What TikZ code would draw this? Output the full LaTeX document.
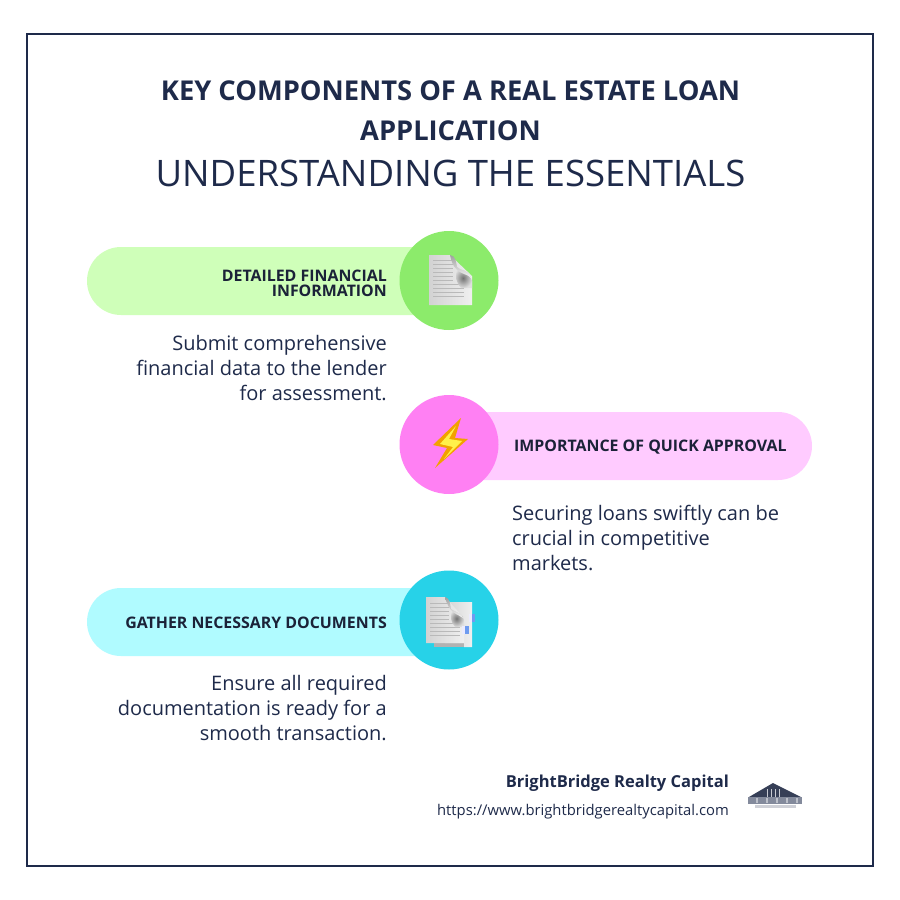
\documentclass[tikz,border=0pt]{standalone}
\usepackage{fontspec}
\setmainfont{Open Sans}
\usepackage{tikz}
\definecolor{navy}{HTML}{1E2A4A}
\definecolor{inkdark}{HTML}{1B2238}
\definecolor{pillgreen}{HTML}{CFFFB9}
\definecolor{dotgreen}{HTML}{8CEB6B}
\definecolor{pillpink}{HTML}{FFCBFF}
\definecolor{dotpink}{HTML}{FF80F3}
\definecolor{pillcyan}{HTML}{B0FBFF}
\definecolor{dotcyan}{HTML}{27D2E8}
\definecolor{boltorange}{HTML}{F2A100}
\definecolor{boltyellow}{HTML}{FFF04A}
\definecolor{tabblue}{HTML}{6E9BEF}
\begin{document}
\begin{tikzpicture}[x=1pt,y=-1pt,
  pill/.style={minimum width=363pt, minimum height=68pt, rounded corners=34pt, inner sep=0pt},
  dot/.style={circle, minimum size=99pt, inner sep=0pt},
  head/.style={font=\fontsize{15.9}{15}\selectfont\bfseries, text=inkdark, align=right, inner sep=0pt},
  body/.style={font=\fontsize{20}{25}\selectfont, text=navy, inner sep=0pt},
  sheet/.style={left color=gray!35, right color=gray!12},
  sheetline/.style={gray!55, line width=0.5pt},
  flap/.style={top color=gray!75, bottom color=gray!8},
  curl/.style={inner color=gray!90!black, outer color=gray!25}]
\useasboundingbox (0,0) rectangle (900,900);
\fill[white] (0,0) rectangle (900,900);
\node[draw=navy, line width=2pt, minimum width=846pt, minimum height=832pt, inner sep=0pt] (frame) at (450,450) {};
% title
\node[font=\fontsize{27.3}{40}\selectfont\bfseries, text=navy, align=center, inner sep=0pt] (title) at (450.5,111) {KEY COMPONENTS OF A REAL ESTATE LOAN\\APPLICATION};
\node[font=\fontsize{36.5}{40}\selectfont, text=navy, inner sep=0pt] (subtitle) at (450.5,173) {UNDERSTANDING THE ESSENTIALS};
% pills and dots
\node[pill, fill=pillgreen] (pill1) at (268.5,281) {};
\node[dot, fill=dotgreen] (dot1) at (449,280.5) {};
\node[pill, fill=pillpink] (pill2) at (630.5,446) {};
\node[dot, fill=dotpink] (dot2) at (449,444.5) {};
\node[pill, fill=pillcyan] (pill3) at (268.5,622) {};
\node[dot, fill=dotcyan] (dot3) at (449,620) {};
% headings
\node[head, anchor=east] (head1) at (387,283) {DETAILED FINANCIAL\\INFORMATION};
\node[head, anchor=west] (head2) at (514,447) {IMPORTANCE OF QUICK APPROVAL};
\node[head, anchor=east] (head3) at (387,623) {GATHER NECESSARY DOCUMENTS};
% descriptions
\node[body, anchor=north east, align=right] (text1) at (387,335) {Submit comprehensive\\financial data to the lender\\for assessment.};
\node[body, anchor=north west, align=left] (text2) at (512,505) {Securing loans swiftly can be\\crucial in competitive\\markets.};
\node[body, anchor=north east, align=right] (text3) at (387,675) {Ensure all required\\documentation is ready for a\\smooth transaction.};
% document icon
\shade[sheet] (429,255) -- (450,255) -- (472,276) -- (472,305) -- (429,305) -- cycle;
\foreach \y in {260,264,268,272,276,280} \draw[sheetline] (433,\y) -- (453,\y);
\foreach \y in {284,288,292,296} \draw[sheetline] (433,\y) -- (464,\y);
\shade[curl] (458,268) .. controls (464,272) and (472,274) .. (472,281) -- (472,288) -- (461,288) .. controls (456,282) and (454,276) .. (458,268);
\shade[flap] (450,255) .. controls (456,256) and (456,262) .. (457,267) .. controls (460,271) and (470,269) .. (471,278) .. controls (466,272) and (454,276) .. (450,255);
% bolt icon
\fill[boltorange] (461,418) -- (433,445) -- (447,448) -- (435,468) -- (468,439) -- (455,438) -- cycle;
\fill[boltyellow] (456,426) -- (440,444) -- (453,447) -- (444,459) -- (462,441) -- (449,439) -- cycle;
% two page icon
\fill[gray!60] (434,640) rectangle (464,647);
\shade[sheet] (445,602) -- (472,602) -- (472,647) -- (464,647) -- (464,643) -- (445,643) -- cycle;
\shade[sheet] (426,597) -- (445,597) -- (464,618) -- (464,643) -- (426,643) -- cycle;
\foreach \y in {603,607,611,615,619} \draw[sheetline] (430,\y) -- (449,\y);
\foreach \y in {623,627,631,635} \draw[sheetline] (430,\y) -- (460,\y);
\shade[curl] (453,610) .. controls (458,614) and (464,614) .. (464,620) -- (464,627) -- (455,627) .. controls (451,622) and (449,616) .. (453,610);
\shade[flap] (445,597) .. controls (450,598) and (450,604) .. (451,609) .. controls (455,613) and (462,612) .. (463,618) .. controls (458,614) and (449,614) .. (445,597);
\fill[blue!8!white] (469,614) rectangle (472,622);
\fill[tabblue] (472,614) rectangle (475,622);
\fill[blue!8!white] (462,626) rectangle (465,634);
\fill[tabblue] (465,626) rectangle (468.5,634);
% footer
\node[font=\fontsize{16.5}{18}\selectfont\bfseries, text=navy, anchor=east, inner sep=0pt] (brand) at (729,783) {BrightBridge Realty Capital};
\node[font=\fontsize{14.8}{16}\selectfont, text=navy, anchor=east, inner sep=0pt] (url) at (729,812) {https://www.brightbridgerealtycapital.com};
% logo
\fill[navy!75!gray] (773,783) -- (749,797) -- (801,797) -- cycle;
\foreach \x in {767,771,775,779} \fill[white!75!navy] (\x,789) rectangle ++(1,8);
\fill[navy!55!white] (748,797) rectangle (802,804);
\foreach \x in {756,766,776,786,796} \fill[white!70!navy] (\x,798) rectangle ++(1.5,5);
\fill[navy!22!white] (755,805) rectangle (796,808);
\end{tikzpicture}
\end{document}
